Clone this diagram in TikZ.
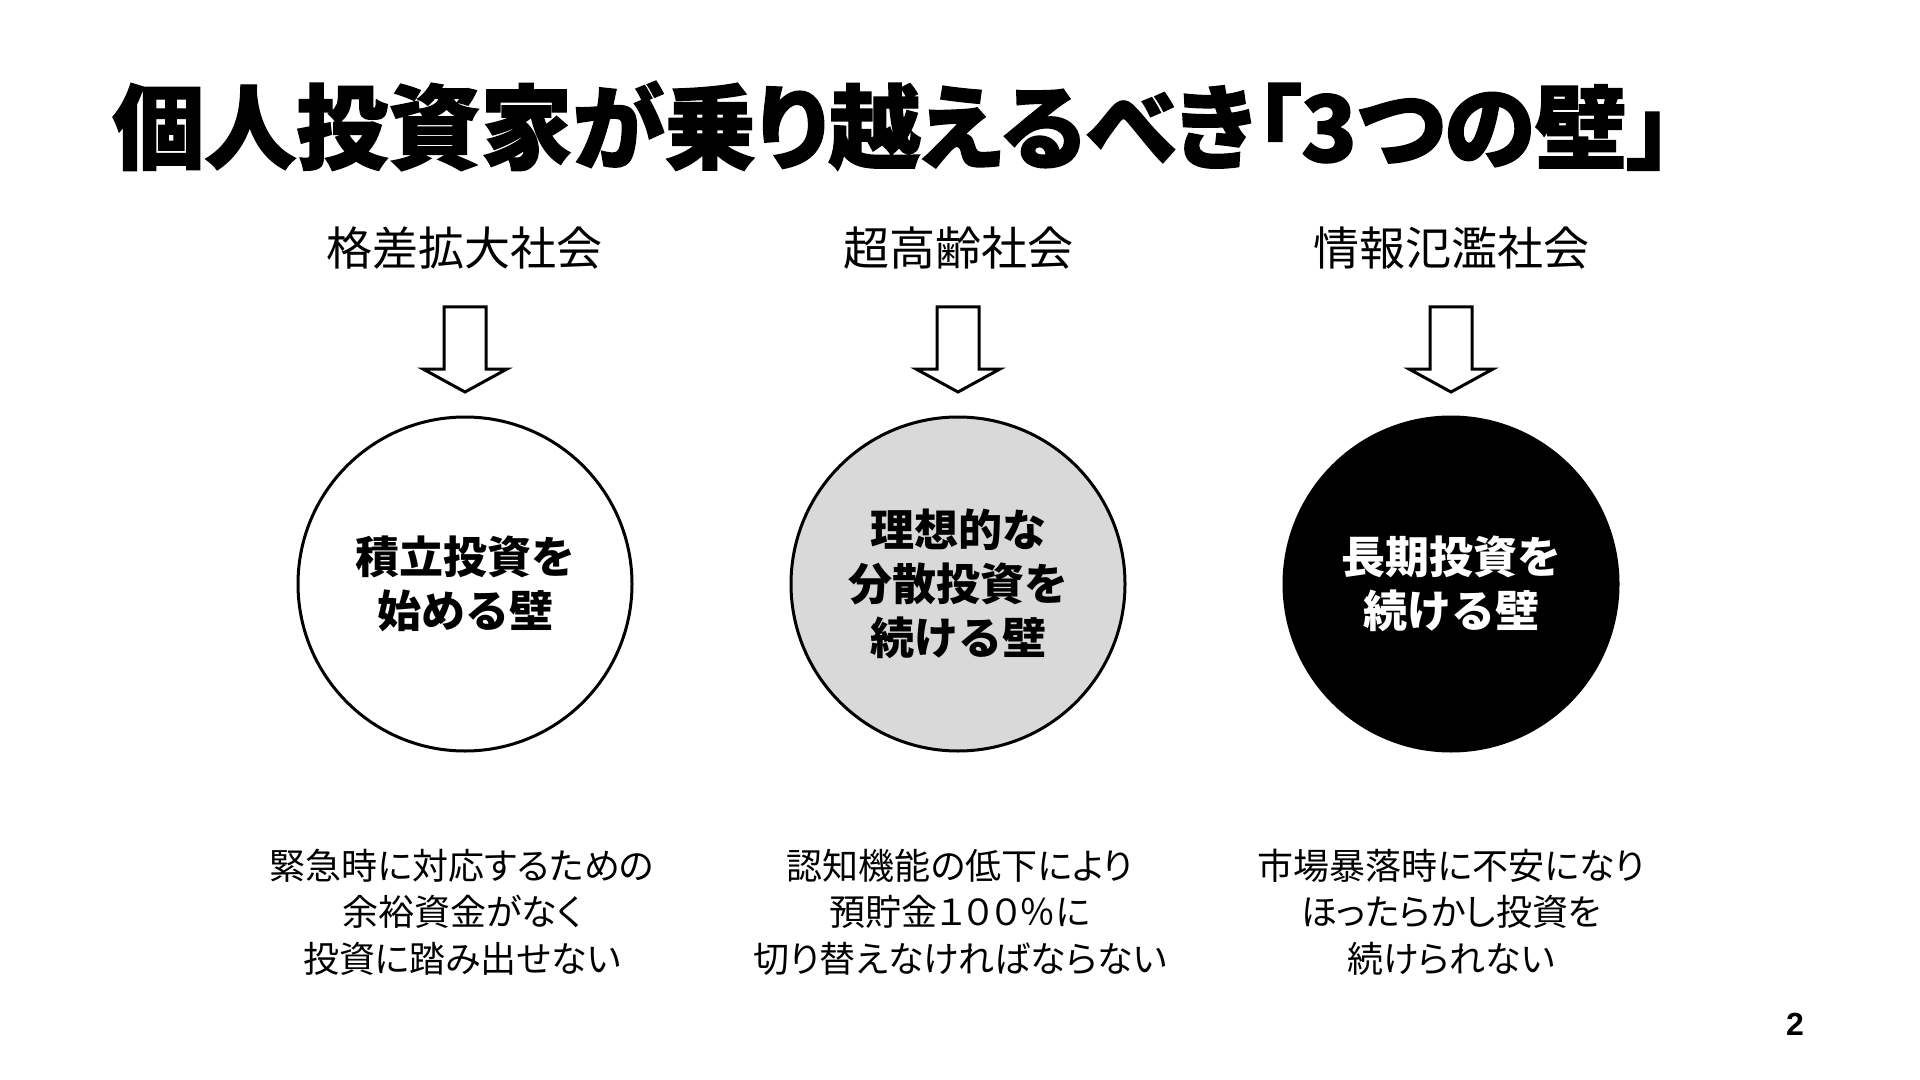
\documentclass[tikz,border=0pt]{standalone}
\usepackage{fontspec}
\usepackage{xcolor}
\setmainfont{Noto Sans CJK JP}
\newfontfamily\titleFont{Noto Sans CJK JP}[CharacterWidth=AlternateProportional,BoldFeatures={FakeBold=1.5}]
\newfontfamily\noteFont{Noto Sans CJK JP}[CharacterWidth=AlternateProportional]
\newfontfamily\pageFont{Liberation Sans}
\colorlet{WallGray}{black!15}
\tikzstyle{titleText}=[inner sep=0pt, anchor=west, font=\titleFont\bfseries\fontsize{46pt}{50pt}\selectfont]
\tikzstyle{societyText}=[inner sep=0pt, font=\fontsize{23pt}{28pt}\selectfont]
\tikzstyle{blockArrow}=[draw, fill=white, line width=1.5pt, line join=miter]
\tikzstyle{wallCircle}=[draw, circle, line width=1.5pt, minimum size=167pt, inner sep=0pt, align=center, font=\bfseries\fontsize{22pt}{27pt}\selectfont]
\tikzstyle{noteText}=[inner sep=0pt, align=center, font=\noteFont\fontsize{18pt}{23.25pt}\selectfont]

\begin{document}
\begin{tikzpicture}[x=0.5pt, y=-0.5pt]
    \useasboundingbox[fill=white] (0,0) rectangle (1920,1080);

    % Title
    \node[titleText] (title) at (112,126) {個人投資家が乗り越えるべき「3つの壁」};

    % Societies
    \node[societyText] (society1) at (464,248) {格差拡大社会};
    \node[societyText] (society2) at (958,248) {超高齢社会};
    \node[societyText] (society3) at (1451,248) {情報氾濫社会};

    % Arrows
    \coordinate (arrowTop1) at (465,307);
    \coordinate (arrowTop2) at (958,307);
    \coordinate (arrowTop3) at (1451,307);
    \draw[blockArrow] (arrowTop1) ++(-21,0) -- ++(42,0) -- ++(0,62) -- ++(21,0) -- ++(-42,23) -- ++(-42,-23) -- ++(21,0) -- cycle;
    \draw[blockArrow] (arrowTop2) ++(-21,0) -- ++(42,0) -- ++(0,62) -- ++(21,0) -- ++(-42,23) -- ++(-42,-23) -- ++(21,0) -- cycle;
    \draw[blockArrow] (arrowTop3) ++(-21,0) -- ++(42,0) -- ++(0,62) -- ++(21,0) -- ++(-42,23) -- ++(-42,-23) -- ++(21,0) -- cycle;

    % Walls
    \node[wallCircle, fill=white] (wall1) at (465,584) {積立投資を\\始める壁};
    \node[wallCircle, fill=WallGray] (wall2) at (958,584) {理想的な\\分散投資を\\続ける壁};
    \node[wallCircle, fill=black, text=white] (wall3) at (1451,584) {長期投資を\\続ける壁};

    % Notes
    \node[noteText] (note1) at (462,912) {緊急時に対応するための\\余裕資金がなく\\投資に踏み出せない};
    \node[noteText] (note2) at (960,912) {認知機能の低下により\\預貯金１００％に\\切り替えなければならない};
    \node[noteText] (note3) at (1451,912) {市場暴落時に不安になり\\ほったらかし投資を\\続けられない};

    % Page number
    \node[inner sep=0pt, font=\pageFont\bfseries\fontsize{16pt}{18pt}\selectfont] (pageNum) at (1795,1024) {2};
\end{tikzpicture}
\end{document}
